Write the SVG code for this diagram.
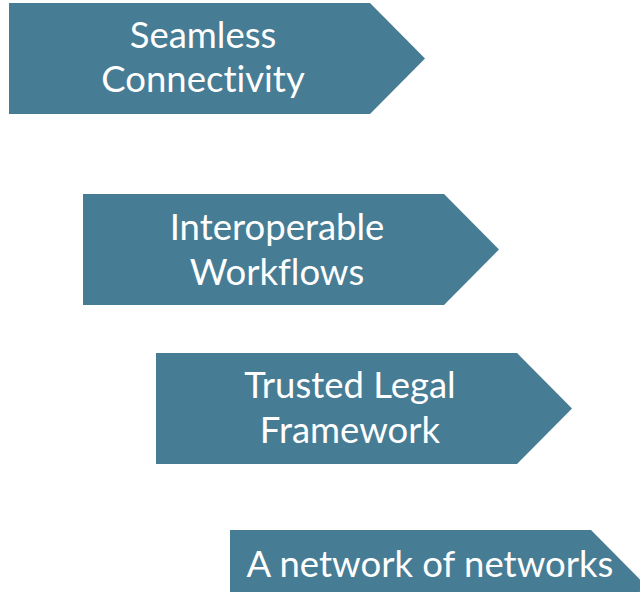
<svg xmlns="http://www.w3.org/2000/svg" width="640" height="592" viewBox="0 0 640 592">
<style>
.a{fill:#467c94;}
.t{fill:#ffffff;font-family:Lato,"Open Sans",sans-serif;font-size:36.5px;text-anchor:middle;font-variant-ligatures:none;}
</style>
<rect width="640" height="592" fill="#ffffff"/>
<g id="n1"><polygon class="a" points="9,3 370,3 425,58.5 370,114 9,114"/>
<text class="t" x="203" y="48">Seamless</text><text class="t" x="203" y="92">Connectivity</text></g>
<g id="n2"><polygon class="a" points="83,194 444,194 499,249.5 444,305 83,305"/>
<text class="t" x="277" y="240">Interoperable</text><text class="t" x="277" y="285">Workflows</text></g>
<g id="n3"><polygon class="a" points="156,353 517,353 572,408.5 517,464 156,464"/>
<text class="t" x="350" y="398">Trusted Legal</text><text class="t" x="350" y="443">Framework</text></g>
<g id="n4"><polygon class="a" points="230,530 591,530 646,585.5 591,641 230,641"/>
<text class="t" x="430" y="577">A network of networks</text></g>
<g id="connectors"/>
</svg>
